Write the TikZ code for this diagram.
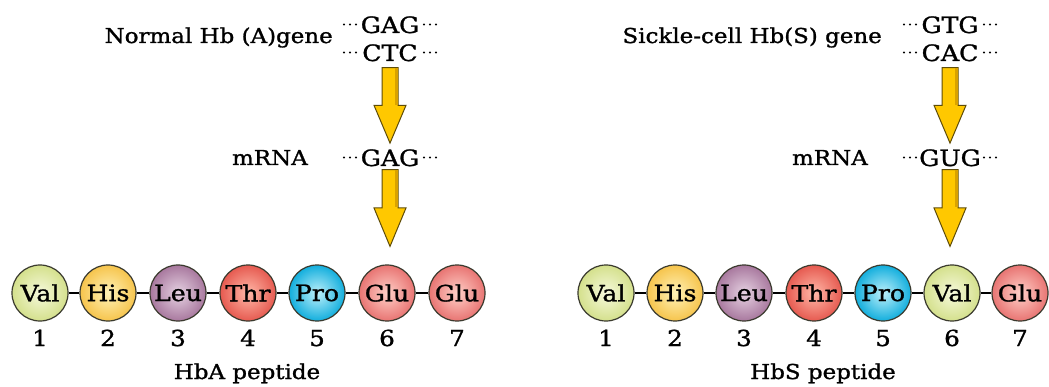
\documentclass[tikz,border=0pt]{standalone}
\usepackage{fontspec}
\setmainfont{DejaVu Serif}[FakeStretch=1.12, FakeBold=1.2]
\usetikzlibrary{calc}
\definecolor{valin}{HTML}{F6F9DC}\definecolor{valout}{HTML}{D4E08C}
\definecolor{hisin}{HTML}{FFF2B8}\definecolor{hisout}{HTML}{F6C44C}
\definecolor{leuin}{HTML}{E6D2E2}\definecolor{leuout}{HTML}{A8789E}
\definecolor{thrin}{HTML}{FFB8A8}\definecolor{throut}{HTML}{E65A50}
\definecolor{proin}{HTML}{BDF0FA}\definecolor{proout}{HTML}{12AEDD}
\definecolor{gluin}{HTML}{FFD0C8}\definecolor{gluout}{HTML}{E87472}
\definecolor{edgegray}{HTML}{3A3A2E}
\definecolor{gold}{HTML}{FFC800}
\definecolor{golddark}{HTML}{D9A200}
\definecolor{goldedge}{HTML}{5E4C08}
\tikzset{
  x=1pt, y=-1pt,
  lbl/.style={inner sep=0pt, font=\fontsize{20.5}{22}\selectfont},
  cod/.style={inner sep=0pt, font=\fontsize{22.5}{24}\selectfont},
  num/.style={inner sep=0pt, font=\fontsize{22}{24}\selectfont, anchor=base},
  aa/.style={circle, minimum size=56pt, inner sep=0pt, draw=edgegray, line width=1.2pt,
             font=\fontsize{22.5}{23}\selectfont},
  val/.style={aa, inner color=valin, outer color=valout},
  his/.style={aa, inner color=hisin, outer color=hisout},
  leu/.style={aa, inner color=leuin, outer color=leuout},
  thr/.style={aa, inner color=thrin, outer color=throut},
  pro/.style={aa, inner color=proin, outer color=proout},
  glu/.style={aa, inner color=gluin, outer color=gluout},
  bond/.style={draw=black, line width=2.8pt},
  goldarr/.style={fill=gold, draw=goldedge, line width=1pt, line join=miter},
}
\newcommand\goldarrow[4]{%
  \coordinate (gt) at ($(#1.south)+(0,#3)$);
  \coordinate (gp) at ($(gt |- #2.north)+(0,-#4)$);
  \coordinate (gb) at ($(gt)!0.5!(gp)$);
  \filldraw[goldarr] ($(gt)+(-8,0)$) -- ($(gt)+(8,0)$) -- ($(gb)+(8,0)$) -- ($(gb)+(16,0)$)
     -- (gp) -- ($(gb)+(-16,0)$) -- ($(gb)+(-8,0)$) -- cycle;
  \fill[golddark] ($(gt)+(4.5,0.5)$) rectangle ($(gb)+(7.5,-0.5)$);
}
\newcommand\codondots[1]{%
  \foreach \dx in {-46,-40,-34,34,40,46}
    \fill ($(#1.base)+(\dx,-8.5)$) circle (1.1pt);
}
\begin{document}
\begin{tikzpicture}
\useasboundingbox (0,0) rectangle (1049,387);
\fill[white] (0,0) rectangle (1049,387);

% ---------- left: normal ----------
\node[lbl, anchor=base east] (tA) at (333,43) {Normal Hb (A)gene};
\node[cod, anchor=base] (gA) at (390,33) {GAG};
\node[cod, anchor=base] (cA) at (390,61) {CTC};
\node[lbl, anchor=base east] (mlA) at (308,165) {mRNA};
\node[cod, anchor=base] (mA) at (390,166) {GAG};
\codondots{gA}\codondots{cA}\codondots{mA}

\node[val] (a1) at (40,293) {Val};
\node[his] (a2) at (108,293) {His};
\node[leu] (a3) at (178,293) {Leu};
\node[thr] (a4) at (248,293) {Thr};
\node[pro] (a5) at (317,293) {Pro};
\node[glu] (a6) at (387,293) {Glu};
\node[glu] (a7) at (457,293) {Glu};
\foreach \i/\j in {1/2,2/3,3/4,4/5,5/6,6/7} \draw[bond] (a\i) -- (a\j);
\foreach \i in {1,...,7} \node[num] (na\i) at ($(a\i |- 0,346)$) {\i};
\node[lbl, anchor=base] (pA) at (247,379) {HbA peptide};

\goldarrow{cA}{mA}{6}{6}
\goldarrow{mA}{a6}{3}{18}

% ---------- right: sickle ----------
\node[lbl, anchor=base east] (tB) at (882,43) {Sickle-cell Hb(S) gene};
\node[cod, anchor=base] (gB) at (950,33) {GTG};
\node[cod, anchor=base] (cB) at (950,61) {CAC};
\node[lbl, anchor=base east] (mlB) at (868,165) {mRNA};
\node[cod, anchor=base] (mB) at (950,166) {GUG};
\codondots{gB}\codondots{cB}\codondots{mB}

\node[val] (b1) at (606,293) {Val};
\node[his] (b2) at (675,293) {His};
\node[leu] (b3) at (744,293) {Leu};
\node[thr] (b4) at (814,293) {Thr};
\node[pro] (b5) at (883,293) {Pro};
\node[val] (b6) at (952,293) {Val};
\node[glu] (b7) at (1020,293) {Glu};
\foreach \i/\j in {1/2,2/3,3/4,4/5,5/6,6/7} \draw[bond] (b\i) -- (b\j);
\foreach \i in {1,...,7} \node[num] (nb\i) at ($(b\i |- 0,346)$) {\i};
\node[lbl, anchor=base] (pB) at (823,379) {HbS peptide};

\goldarrow{cB}{mB}{6}{6}
\goldarrow{mB}{b6}{3}{18}
\end{tikzpicture}
\end{document}
